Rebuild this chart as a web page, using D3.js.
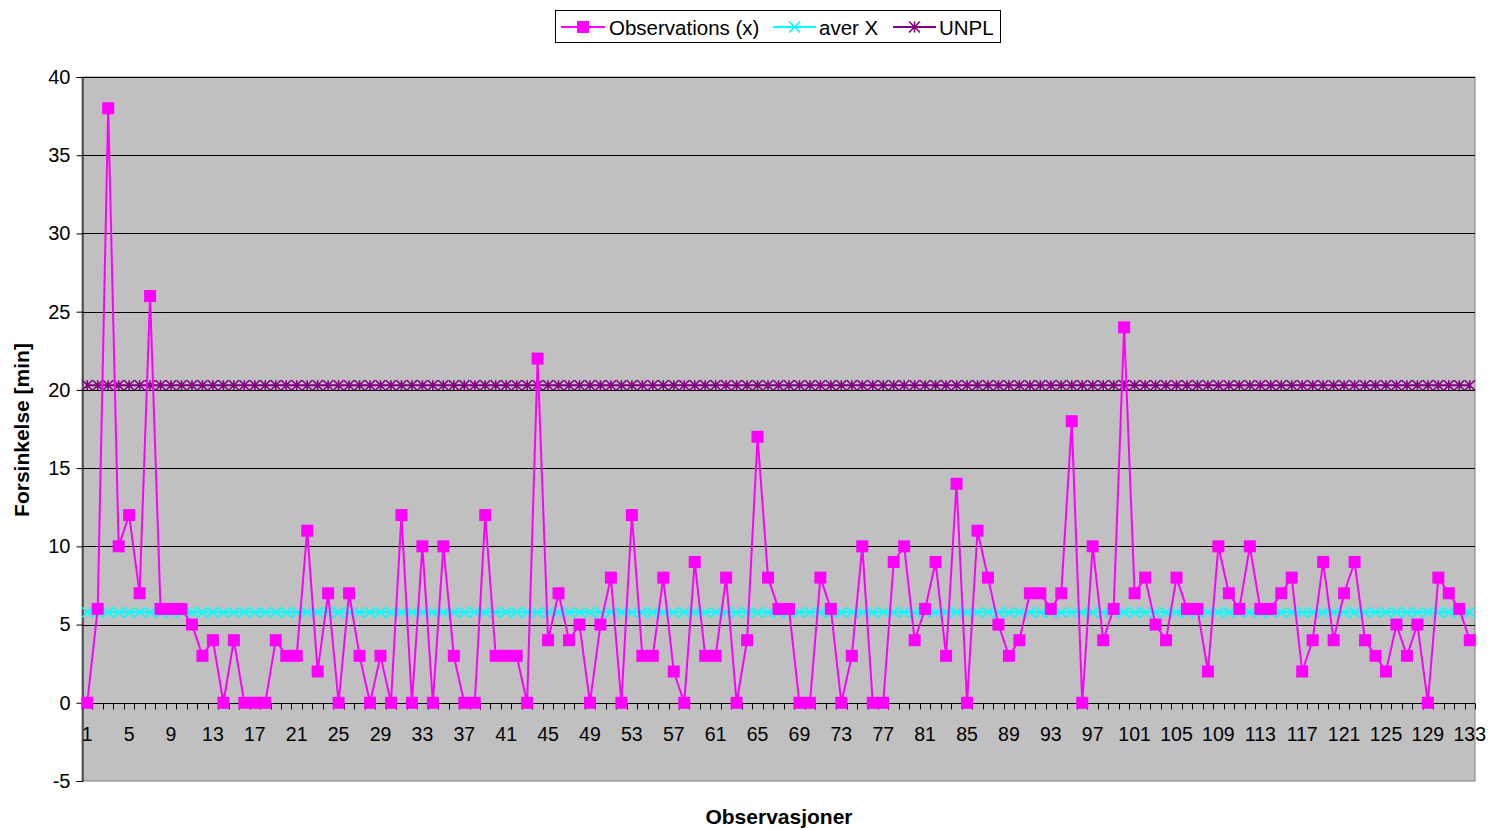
<!DOCTYPE html>
<html><head><meta charset="utf-8">
<script src="https://cdn.jsdelivr.net/npm/d3@7"></script>
<style>body{margin:0;background:#fff;font-family:"Liberation Sans",Arial,sans-serif;}</style>
</head><body><svg id="c" width="1491" height="829"></svg>
<script>
const categories = d3.range(1, 134).map(String);
const observations = [0,6,38,10,12,7,26,6,6,6, 5,3,4,0,4,0,0,0,4,3, 3,11,2,7,0,7,3,0,3,0,
 12,0,10,0,10,3,0,0,12,3, 3,3,0,22,4,7,4,5,0,5, 8,0,12,3,3,8,2,0,9,3,
 3,8,0,4,17,8,6,6,0,0, 8,6,0,3,10,0,0,9,10,4, 6,9,3,14,0,11,8,5,3,4,
 7,7,6,7,18,0,10,4,6,24, 7,8,5,4,8,6,6,2,10,7, 6,10,6,6,7,8,2,4,9,4,
 7,9,4,3,2,5,3,5,0,8, 7,6,4];
const averXValue = [5.78];
const unplValue = [20.3];
const yTicks = [-5,0,5,10,15,20,25,30,35,40];
const xTickLabels = categories.filter((d,i)=> i % 4 === 0);

const svg = d3.select("#c");
const L = 82, R = 1475, T = 77, B = 781;
const x = d3.scaleBand().domain(categories).range([L, R]).paddingInner(0).paddingOuter(0);
const cx = d => x(d) + x.bandwidth()/2;
const y = d3.scaleLinear().domain([-5, 40]).range([B, T]);

// plot background
svg.append("rect").attr("x", L).attr("y", T).attr("width", R-L).attr("height", B-T)
  .attr("fill", "#C0C0C0").attr("stroke", "#808080").attr("stroke-width", 1);

// gridlines
svg.append("g").selectAll("line").data(yTicks.filter(v=>v!==-5)).join("line")
  .attr("x1", L).attr("x2", R).attr("y1", d=>Math.round(y(d))+0.5).attr("y2", d=>Math.round(y(d))+0.5)
  .attr("stroke", "#000").attr("stroke-width", 1);

// y axis
const yAxis = svg.append("g").attr("transform", `translate(${L+0.5},0)`)
  .call(d3.axisLeft(y).tickValues(yTicks).tickSize(6).tickPadding(6).tickFormat(d => String(d)));
yAxis.select(".domain").attr("stroke", "#000");
yAxis.selectAll(".tick line").attr("stroke", "#000");
yAxis.selectAll("text").attr("font-size", "20px").attr("font-family", "Liberation Sans, Arial, sans-serif").attr("fill", "#000");

// x axis at y=0 with category boundary ticks
const y0 = Math.round(y(0)) + 0.5;
svg.append("line").attr("x1", L).attr("x2", R).attr("y1", y0).attr("y2", y0).attr("stroke", "#000");
const bounds = categories.map(c => x(c)).concat([R]);
svg.append("g").selectAll("line").data(bounds).join("line")
  .attr("x1", d=>Math.round(d)+0.5).attr("x2", d=>Math.round(d)+0.5)
  .attr("y1", y0).attr("y2", y0+6).attr("stroke", "#000");
svg.append("g").selectAll("text").data(xTickLabels).join("text")
  .attr("x", d=>cx(d)).attr("y", y0+37).attr("text-anchor", "middle")
  .attr("font-size", "19.5px").attr("fill", "#000").text(d=>d);

// axis titles
svg.append("text").attr("transform", `translate(29,${430}) rotate(-90)`)
  .attr("text-anchor", "middle").attr("font-size", "21px").attr("font-weight", "bold").text("Forsinkelse [min]");
svg.append("text").attr("x", 779).attr("y", 824).attr("text-anchor", "middle")
  .attr("font-size", "21px").attr("font-weight", "bold").text("Observasjoner");

const line = d3.line().x(d=>cx(d.c)).y(d=>y(d.v));
const mk = (vals) => categories.map((c,i)=>({c, v: vals[i]}));

const unplData = mk(categories.map(()=>unplValue[0]));
const avgData = mk(categories.map(()=>averXValue[0]));
const obsData = mk(observations);

function starPath(s){ const h=s/2; return `M${-h},${-h}L${h},${h}M${-h},${h}L${h},${-h}M0,${-h}L0,${h}`; }
function xPath(s){ const h=s/2; return `M${-h},${-h}L${h},${h}M${-h},${h}L${h},${-h}`; }

// UNPL
svg.append("path").datum(unplData).attr("d", line).attr("fill","none").attr("stroke","#800080").attr("stroke-width",2);
svg.append("g").selectAll("path").data(unplData).join("path")
  .attr("transform", d=>`translate(${cx(d.c)},${y(d.v)})`).attr("d", starPath(10))
  .attr("stroke","#800080").attr("stroke-width",1.6).attr("fill","none");

// aver X
svg.append("path").datum(avgData).attr("d", line).attr("fill","none").attr("stroke","#00FFFF").attr("stroke-width",2);
svg.append("g").selectAll("path").data(avgData).join("path")
  .attr("transform", d=>`translate(${cx(d.c)},${y(d.v)})`).attr("d", xPath(10))
  .attr("stroke","#00FFFF").attr("stroke-width",1.6).attr("fill","none");

// Observations
svg.append("path").datum(obsData).attr("d", line).attr("fill","none").attr("stroke","#FF00FF").attr("stroke-width",2);
svg.append("g").selectAll("rect").data(obsData).join("rect")
  .attr("x", d=>cx(d.c)-6).attr("y", d=>y(d.v)-6).attr("width",12).attr("height",12)
  .attr("fill","#FF00FF");

// legend
const lg = svg.append("g");
lg.append("rect").attr("x",555.5).attr("y",10.5).attr("width",445).attr("height",32)
  .attr("fill","#fff").attr("stroke","#000").attr("stroke-width",1);
const items = [
  {name:"Observations (x)", color:"#FF00FF", x1:561, x2:605, tx:609, m:"sq"},
  {name:"aver X", color:"#00FFFF", x1:773, x2:816, tx:819, m:"x"},
  {name:"UNPL", color:"#800080", x1:893, x2:936, tx:939, m:"star"}
];
const ly = 27;
items.forEach(it=>{
  lg.append("line").attr("x1",it.x1).attr("x2",it.x2).attr("y1",ly).attr("y2",ly).attr("stroke",it.color).attr("stroke-width",2);
  const mxp = (it.x1+it.x2)/2;
  if (it.m==="sq") lg.append("rect").attr("x",mxp-6).attr("y",ly-6).attr("width",12).attr("height",12).attr("fill",it.color);
  else lg.append("path").attr("transform",`translate(${mxp},${ly})`).attr("d", it.m==="x"?xPath(11):starPath(11))
    .attr("stroke",it.color).attr("stroke-width",1.6).attr("fill","none");
  lg.append("text").attr("x",it.tx).attr("y",ly+7.5).attr("font-size","20.5px").attr("fill","#000").text(it.name);
});
</script></body></html>
